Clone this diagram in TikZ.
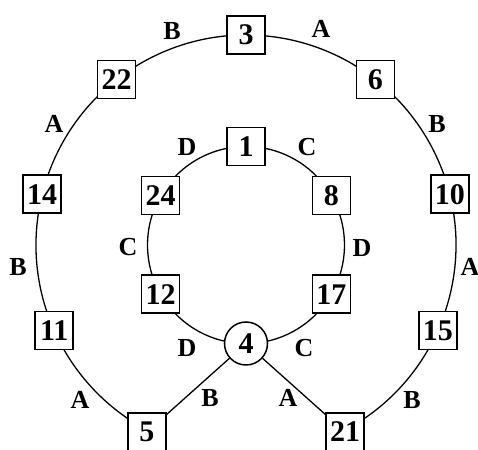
\documentclass[tikz,border=0pt]{standalone}
\usepackage{fontspec}
\setmainfont{Liberation Serif}
\usepackage{xcolor}

\tikzset{
  box/.style={draw,line width=0.75pt,fill=white,minimum size=19pt,inner sep=0pt,
    font=\fontsize{15}{15}\selectfont\bfseries},
  hub/.style={draw,circle,line width=0.75pt,fill=white,minimum size=21.5pt,inner sep=0pt,
    font=\fontsize{15}{15}\selectfont\bfseries},
  lab/.style={inner sep=0pt,font=\fontsize{13}{13}\selectfont\bfseries}
}

\begin{document}
\begin{tikzpicture}[x=0.5pt,y=0.5pt]
    \clip (0,0) rectangle (478,450);
    % 圆心
    \coordinate (O) at (246,205);

    % 外圈和内圈
    \draw[line width=0.65pt] (O) ++(-62:210) arc (-62:242:210);
    \draw[line width=0.65pt] (O) circle (98.5);

    % 外圈上的点
    \node[box] (n3)  at (246,415)     {3};
    \node[box] (n6)  at (375.3,370.5) {6};
    \node[box] (n22) at (116.7,370.5) {22};
    \node[box] (n10) at (449.8,255.8) {10};
    \node[box] (n14) at (42.2,255.8)  {14};
    \node[box] (n15) at (437.8,119.6) {15};
    \node[box] (n11) at (54.2,119.6)  {11};
    \node[box] (n21) at (345,18)      {21};
    \node[box] (n5)  at (147,18)      {5};

    % 内圈上的点
    \node[box] (n1)  at (246,303.5)   {1};
    \node[box] (n8)  at (331.3,254.3) {8};
    \node[box] (n24) at (160.7,254.3) {24};
    \node[box] (n17) at (331.3,155.8) {17};
    \node[box] (n12) at (160.7,155.8) {12};
    \node[hub] (n4)  at (246,106.5)   {4};

    % 连线
    \draw[line width=0.65pt] (n4) -- (n5);
    \draw[line width=0.65pt] (n4) -- (n21);

    % 标注文字
    \node[lab] (lb1)  at (172,419) {B};
    \node[lab] (la1)  at (321,421) {A};
    \node[lab] (la2)  at (54,326)  {A};
    \node[lab] (lb2)  at (437,326) {B};
    \node[lab] (ld1)  at (187,303) {D};
    \node[lab] (lc1)  at (307,303) {C};
    \node[lab] (lc2)  at (128,203) {C};
    \node[lab] (lb3)  at (18,183)  {B};
    \node[lab] (ld2)  at (362,202) {D};
    \node[lab] (la3)  at (470,183) {A};
    \node[lab] (ld3)  at (187,102) {D};
    \node[lab] (lc3)  at (304,102) {C};
    \node[lab] (la4)  at (80,50)   {A};
    \node[lab] (lb4)  at (412,50)  {B};
    \node[lab] (lb5)  at (210,52)  {B};
    \node[lab] (la5)  at (288,52)  {A};

\end{tikzpicture}
\end{document}
